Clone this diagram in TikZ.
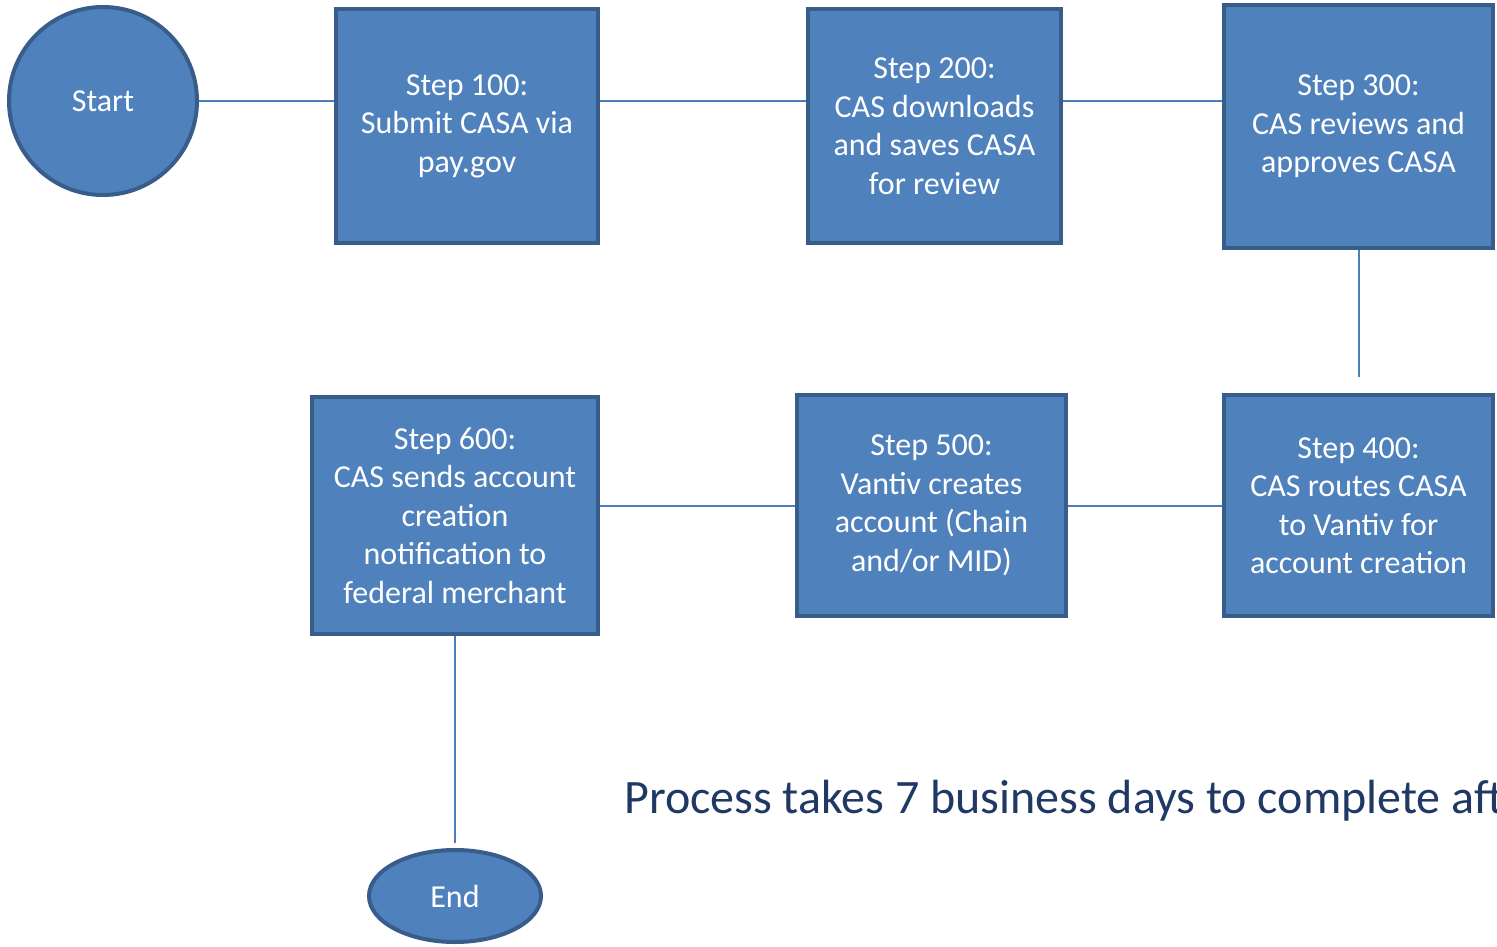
\documentclass[tikz,border=0pt]{standalone}
\usepackage{fontspec}
\setmainfont{Carlito}
\usetikzlibrary{shapes.geometric,positioning}
\definecolor{boxfill}{HTML}{4F81BD}
\definecolor{boxline}{HTML}{385D8A}
\definecolor{linkline}{HTML}{4A7EBB}
\definecolor{notetext}{HTML}{1F3864}
\tikzset{
  stepbox/.style={
    % The shape:
    rectangle,
    % The border:
    line width=4pt,
    draw=boxline,
    % The filling:
    fill=boxfill,
    % The text:
    text=white,align=center,inner sep=0pt,
    font=\fontsize{32}{38.5}\selectfont},
  terminal/.style={
    % The shape:
    ellipse,
    % The rest
    line width=4pt,draw=boxline,fill=boxfill,
    text=white,inner sep=0pt,
    font=\fontsize{32}{38.5}\selectfont},
  link/.style={
    % The connector:
    line width=2pt,draw=linkline}
}
\begin{document}
\begin{tikzpicture}[x=1pt,y=-1pt]
  \clip (0,0) rectangle (1497,947);

  % top row
  \node (start) [terminal,minimum width=188pt,minimum height=188pt] at (103,101) {Start};
  \node (step100) [stepbox,minimum width=262pt,minimum height=234pt] at (467,126)
        {Step 100:\\Submit CASA via\\pay.gov};
  \node (step200) [stepbox,minimum width=253pt,minimum height=234pt] at (934.5,126)
        {Step 200:\\CAS downloads\\and saves CASA\\for review};
  \node (step300) [stepbox,minimum width=269pt,minimum height=243pt] at (1358.5,126.5)
        {Step 300:\\CAS reviews and\\approves CASA};

  % bottom row
  \node (step400) [stepbox,minimum width=269pt,minimum height=221pt] at (1358.5,505.5)
        {Step 400:\\CAS routes CASA\\to Vantiv for\\account creation};
  \node (step500) [stepbox,minimum width=269pt,minimum height=221pt] at (931.5,505.5)
        {Step 500:\\Vantiv creates\\account (Chain\\and/or MID)};
  \node (step600) [stepbox,minimum width=286pt,minimum height=237pt] at (455,515.5)
        {Step 600:\\CAS sends account\\creation\\notification to\\federal merchant};
  \node (end) [terminal,minimum width=172pt,minimum height=92pt] at (455,896) {End};

  \node (note) [anchor=base west,text=notetext,inner sep=0pt,
                font=\fontsize{48}{56}\selectfont] at (624,813)
        {Process takes 7 business days to complete aft};

  % connectors
  \draw[link] (start.east) -- (start.east -| step100.west);
  \draw[link] (start.east -| step100.east) -- (start.east -| step200.west);
  \draw[link] (start.east -| step200.east) -- (start.east -| step300.west);
  \draw[link,shorten >=16pt] (step300) -- (step400);
  \draw[link] (step400) -- (step500);
  \draw[link] (step500.west) -- (step500.west -| step600.east);
  \draw[link,shorten >=5pt] (step600) -- (end);
\end{tikzpicture}
\end{document}
